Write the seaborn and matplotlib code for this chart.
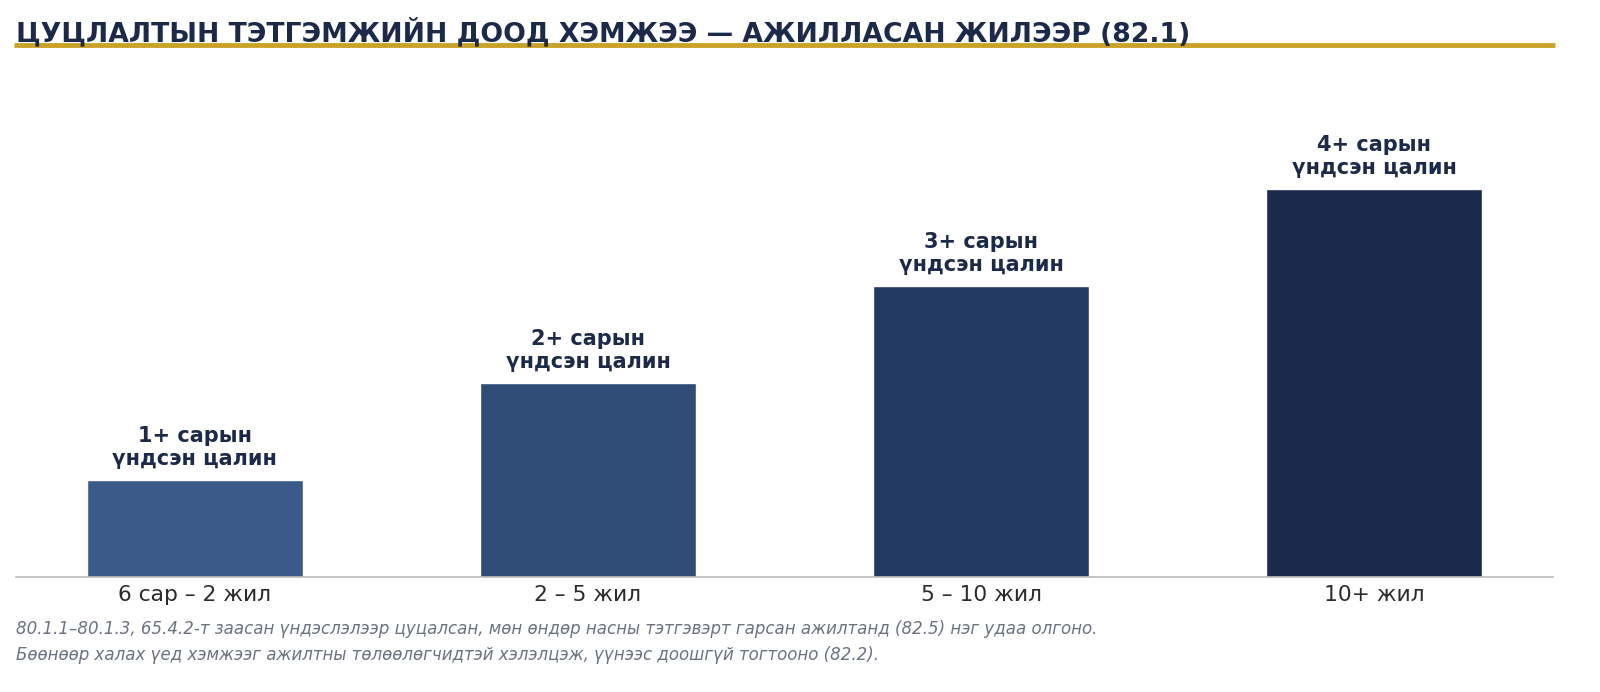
import matplotlib
matplotlib.use("Agg")
import matplotlib.pyplot as plt
import seaborn as sns
import pandas as pd

categories = ["6 сар – 2 жил", "2 – 5 жил", "5 – 10 жил", "10+ жил"]
months = [1, 2, 3, 4]
bar_labels = ["1+ сарын\nүндсэн цалин", "2+ сарын\nүндсэн цалин",
              "3+ сарын\nүндсэн цалин", "4+ сарын\nүндсэн цалин"]
colors = ["#3A5A8A", "#2E4C76", "#233A63", "#1B2A4A"]
title = "ЦУЦЛАЛТЫН ТЭТГЭМЖИЙН ДООД ХЭМЖЭЭ — АЖИЛЛАСАН ЖИЛЭЭР (82.1)"
footnote = ("80.1.1–80.1.3, 65.4.2-т заасан үндэслэлээр цуцалсан, мөн өндөр насны тэтгэвэрт гарсан ажилтанд (82.5) нэг удаа олгоно.\n"
            "Бөөнөөр халах үед хэмжээг ажилтны төлөөлөгчидтэй хэлэлцэж, үүнээс доошгүй тогтооно (82.2).")

sns.set_theme(style="white")
plt.rcParams['font.family'] = ['DejaVu Sans']

df = pd.DataFrame({"cat": categories, "val": months})

fig = plt.figure(figsize=(16, 6.92), dpi=100)
ax = fig.add_axes([0.01, 1 - 577 / 692, 0.9606, (577 - 70) / 692])
sns.barplot(data=df, x="cat", y="val", hue="cat", palette=colors, legend=False,
            width=0.55, saturation=1, ax=ax)
ax.set_xlim(-0.455, 3.455)
ax.set_ylim(0, (577 - 70) / 97)
ax.set_xlabel("")
ax.set_ylabel("")
ax.set_yticks([])
for s in ["top", "right", "left"]:
    ax.spines[s].set_visible(False)
ax.spines["bottom"].set_color("#BBBBBB")
ax.spines["bottom"].set_linewidth(1.2)
ax.tick_params(axis="x", length=0, pad=6, labelsize=15.7, labelcolor="#2B2B2B")

for i, (v, lab) in enumerate(zip(months, bar_labels)):
    ax.annotate(lab, xy=(i, v), xytext=(0, 8), textcoords="offset points",
                ha="center", va="bottom", fontsize=15, fontweight="bold",
                color="#1B2A4A", linespacing=1.2)

fig.text(16 / 1600, 1 - 33 / 692, title, ha="left", va="center",
         fontsize=19.2, fontweight="bold", color="#1B2A4A")
fig.add_artist(plt.Line2D([14 / 1600, 1555 / 1600], [1 - 44.5 / 692] * 2,
                          color="#C9A227", linewidth=3.5, solid_capstyle="butt",
                          transform=fig.transFigure))
fig.text(16 / 1600, 1 - 642 / 692, footnote, ha="left", va="center",
         fontsize=12, style="italic", color="#6B7280", linespacing=1.55)

fig.savefig("out.png", dpi=100)
